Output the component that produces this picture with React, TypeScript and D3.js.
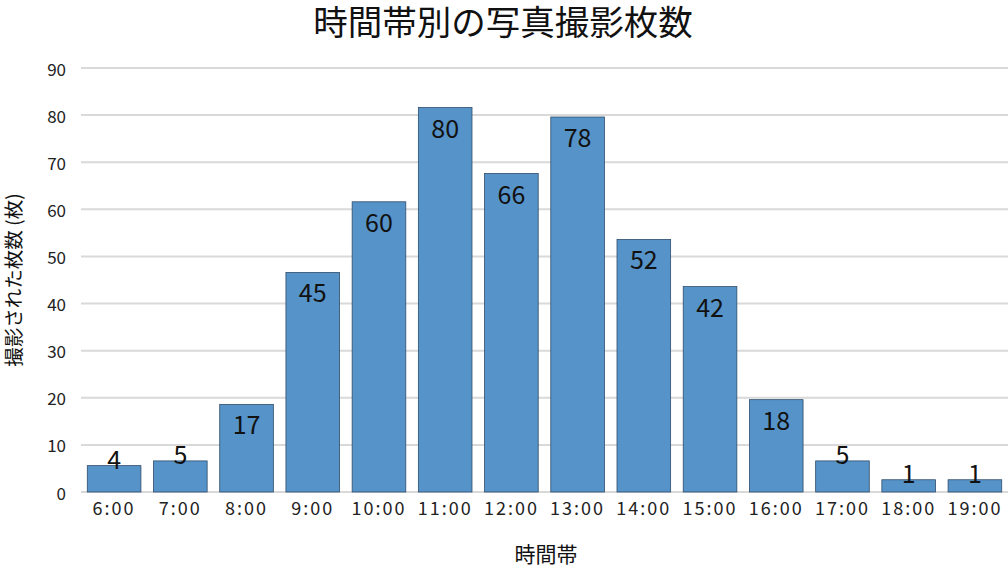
import { useMemo } from "react";
import * as d3 from "d3";

const WIDTH = 1008;
const HEIGHT = 568;

const categories = ["6:00", "7:00", "8:00", "9:00", "10:00", "11:00", "12:00", "13:00", "14:00", "15:00", "16:00", "17:00", "18:00", "19:00"];
const counts = [4, 5, 17, 45, 60, 80, 66, 78, 52, 42, 18, 5, 1, 1];
const yTicks = [0, 10, 20, 30, 40, 50, 60, 70, 80, 90];

const TITLE = "時間帯別の写真撮影枚数";
const X_TITLE = "時間帯";
const Y_TITLE = "撮影された枚数 (枚)";

const FONT = "'Noto Sans CJK JP', 'Noto Sans', sans-serif";
const BAR_FILL = "#5693c8";
const BAR_STROKE = "#2f4d6b";
// bars in the original sit a little above their value
const BAR_LIFT = 1.6;

export default function App() {
    const data = categories.map((c, i) => ({ name: c, value: counts[i] }));

    const xScale = useMemo(
        () => d3.scaleBand().domain(categories).range([81, 1008]).paddingInner(0.19).paddingOuter(0.095),
        []
    );
    const yScale = useMemo(() => d3.scaleLinear().domain([0, 90]).range([492, 68]), []);

    const grid = yTicks.map((t) => (
        <g key={t}>
            <line x1={81} x2={WIDTH} y1={yScale(t)} y2={yScale(t)} stroke="#d9d9d9" strokeWidth={2} />
            <text x={66} y={yScale(t)} textAnchor="end" dominantBaseline="central" fontSize={17} fill="#222">
                {t}
            </text>
        </g>
    ));

    const bars = data.map((d, i) => {
        const x = xScale(d.name);
        if (x === undefined) return null;
        const top = yScale(d.value + BAR_LIFT);
        const h = yScale(0) - top;
        const cx = x + xScale.bandwidth() / 2;
        const labelY = h > 45 ? top + 30 : top + 3;
        return (
            <g key={i}>
                <rect x={x} y={top} width={xScale.bandwidth()} height={h} fill={BAR_FILL} stroke={BAR_STROKE} strokeWidth={0.8} />
                <text x={cx} y={labelY} textAnchor="middle" fontSize={25} fill="#111">
                    {d.value}
                </text>
                <text x={cx} y={515} textAnchor="middle" fontSize={18} letterSpacing={2} fill="#222">
                    {d.name}
                </text>
            </g>
        );
    });

    return (
        <svg
            width={WIDTH}
            height={HEIGHT}
            fontFamily={FONT}
            style={{ position: "absolute", left: 0, top: 0, background: "#fff" }}
        >
            {grid}
            {bars}
            <text x={503} y={35} textAnchor="middle" fontSize={34.5} fill="#111">
                {TITLE}
            </text>
            <text x={546} y={562} textAnchor="middle" fontSize={21} fill="#111">
                {X_TITLE}
            </text>
            <text
                transform={`translate(21,280) rotate(-90)`}
                textAnchor="middle"
                fontSize={19.5}
                fill="#111"
            >
                {Y_TITLE}
            </text>
        </svg>
    );
}
